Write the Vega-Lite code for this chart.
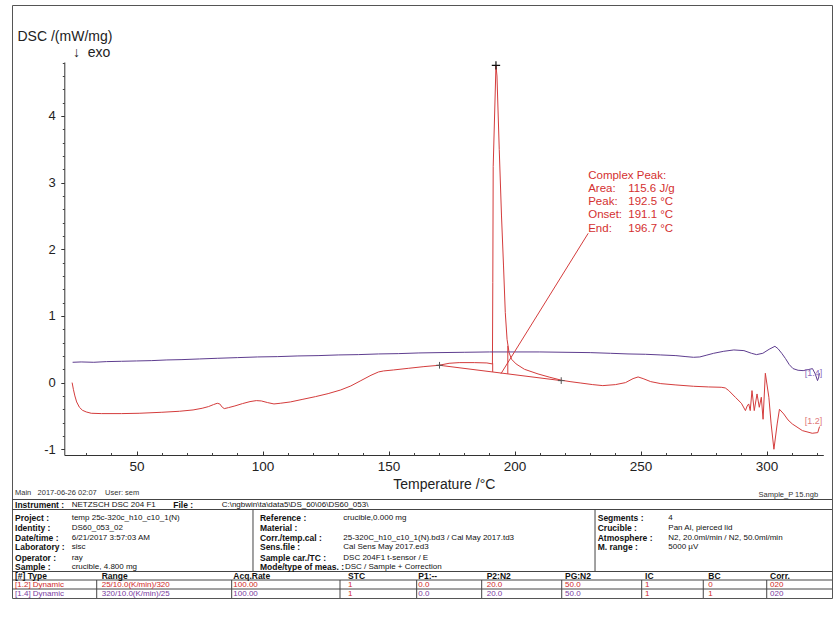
{
"$schema": "https://vega.github.io/schema/vega-lite/v6.json",
"width": 820,
"height": 593,
"autosize": {"type": "none"},
"padding": {"left": 12, "top": 5, "right": 3, "bottom": 30},
"background": "white",
"config": {"view": {"stroke": "#555", "strokeWidth": 1}, "font": "Liberation Sans", "axis": {"labelOverlap": false}},
"datasets": {
"curves": [
{"s":"1.2","t":24.4,"v":0.0},{"s":"1.2","t":24.9,"v":-0.1},{"s":"1.2","t":25.5,"v":-0.2},{"s":"1.2","t":26.2,"v":-0.29},{"s":"1.2","t":27.3,"v":-0.37},{"s":"1.2","t":28.5,"v":-0.415},{"s":"1.2","t":30,"v":-0.44},{"s":"1.2","t":32,"v":-0.46},{"s":"1.2","t":36,"v":-0.465},{"s":"1.2","t":44,"v":-0.465},{"s":"1.2","t":51,"v":-0.46},{"s":"1.2","t":60,"v":-0.445},{"s":"1.2","t":67,"v":-0.43},{"s":"1.2","t":72.4,"v":-0.41},{"s":"1.2","t":76,"v":-0.385},{"s":"1.2","t":78.5,"v":-0.36},{"s":"1.2","t":80.5,"v":-0.33},{"s":"1.2","t":82,"v":-0.31},{"s":"1.2","t":83,"v":-0.32},{"s":"1.2","t":84,"v":-0.37},{"s":"1.2","t":84.8,"v":-0.39},{"s":"1.2","t":86.5,"v":-0.375},{"s":"1.2","t":89,"v":-0.35},{"s":"1.2","t":92,"v":-0.315},{"s":"1.2","t":95,"v":-0.285},{"s":"1.2","t":97.5,"v":-0.27},{"s":"1.2","t":99.5,"v":-0.275},{"s":"1.2","t":102,"v":-0.3},{"s":"1.2","t":104.5,"v":-0.32},{"s":"1.2","t":107,"v":-0.31},{"s":"1.2","t":111,"v":-0.29},{"s":"1.2","t":116,"v":-0.25},{"s":"1.2","t":121,"v":-0.21},{"s":"1.2","t":126,"v":-0.165},{"s":"1.2","t":131,"v":-0.11},{"s":"1.2","t":135,"v":-0.05},{"s":"1.2","t":139,"v":0.03},{"s":"1.2","t":143,"v":0.11},{"s":"1.2","t":146,"v":0.16},{"s":"1.2","t":148,"v":0.175},{"s":"1.2","t":152,"v":0.19},{"s":"1.2","t":158,"v":0.215},{"s":"1.2","t":164,"v":0.24},{"s":"1.2","t":170,"v":0.26},{"s":"1.2","t":174,"v":0.29},{"s":"1.2","t":178,"v":0.3},{"s":"1.2","t":184,"v":0.3},{"s":"1.2","t":189,"v":0.295},{"s":"1.2","t":191.2,"v":0.28},{"s":"1.2","t":191.35,"v":1.5},{"s":"1.2","t":191.5,"v":3.24},{"s":"1.2","t":192.6,"v":4.76},{"s":"1.2","t":193.0,"v":4.6},{"s":"1.2","t":193.9,"v":3.5},{"s":"1.2","t":194.8,"v":2.5},{"s":"1.2","t":195.6,"v":1.75},{"s":"1.2","t":196.3,"v":1.05},{"s":"1.2","t":197.0,"v":0.65},{"s":"1.2","t":197.8,"v":0.45},{"s":"1.2","t":198.8,"v":0.35},{"s":"1.2","t":200.6,"v":0.28},{"s":"1.2","t":203.9,"v":0.2},{"s":"1.2","t":209.3,"v":0.13},{"s":"1.2","t":214,"v":0.08},{"s":"1.2","t":218.7,"v":0.035},{"s":"1.2","t":222,"v":0.015},{"s":"1.2","t":226,"v":-0.005},{"s":"1.2","t":231,"v":-0.03},{"s":"1.2","t":235,"v":-0.045},{"s":"1.2","t":240,"v":-0.03},{"s":"1.2","t":244,"v":0.0},{"s":"1.2","t":247,"v":0.06},{"s":"1.2","t":249,"v":0.085},{"s":"1.2","t":251,"v":0.06},{"s":"1.2","t":254,"v":0.015},{"s":"1.2","t":258,"v":-0.015},{"s":"1.2","t":264,"v":-0.035},{"s":"1.2","t":271,"v":-0.055},{"s":"1.2","t":277,"v":-0.065},{"s":"1.2","t":282,"v":-0.07},{"s":"1.2","t":283.6,"v":-0.08},{"s":"1.2","t":285,"v":-0.12},{"s":"1.2","t":287.6,"v":-0.22},{"s":"1.2","t":290,"v":-0.31},{"s":"1.2","t":291.6,"v":-0.42},{"s":"1.2","t":292.3,"v":-0.35},{"s":"1.2","t":292.9,"v":-0.32},{"s":"1.2","t":293.5,"v":-0.42},{"s":"1.2","t":294.2,"v":-0.12},{"s":"1.2","t":295.1,"v":-0.42},{"s":"1.2","t":296.2,"v":-0.17},{"s":"1.2","t":297.1,"v":-0.37},{"s":"1.2","t":297.9,"v":-0.22},{"s":"1.2","t":298.6,"v":-0.55},{"s":"1.2","t":299.5,"v":0.14},{"s":"1.2","t":300.9,"v":-0.22},{"s":"1.2","t":301.8,"v":-0.62},{"s":"1.2","t":302.9,"v":-1.0},{"s":"1.2","t":304.2,"v":-0.62},{"s":"1.2","t":305.1,"v":-0.4},{"s":"1.2","t":306.8,"v":-0.47},{"s":"1.2","t":308.5,"v":-0.56},{"s":"1.2","t":310.2,"v":-0.62},{"s":"1.2","t":314.2,"v":-0.72},{"s":"1.2","t":318.1,"v":-0.76},{"s":"1.2","t":320.3,"v":-0.75},{"s":"1.2","t":321,"v":-0.66},
{"s":"1.4","t":24.6,"v":0.305},{"s":"1.4","t":28,"v":0.31},{"s":"1.4","t":33,"v":0.305},{"s":"1.4","t":38,"v":0.315},{"s":"1.4","t":44,"v":0.32},{"s":"1.4","t":50,"v":0.325},{"s":"1.4","t":56,"v":0.33},{"s":"1.4","t":62,"v":0.34},{"s":"1.4","t":68,"v":0.345},{"s":"1.4","t":75,"v":0.355},{"s":"1.4","t":82,"v":0.365},{"s":"1.4","t":90,"v":0.375},{"s":"1.4","t":98,"v":0.385},{"s":"1.4","t":106,"v":0.39},{"s":"1.4","t":114,"v":0.4},{"s":"1.4","t":122,"v":0.405},{"s":"1.4","t":130,"v":0.415},{"s":"1.4","t":138,"v":0.42},{"s":"1.4","t":146,"v":0.43},{"s":"1.4","t":154,"v":0.435},{"s":"1.4","t":162,"v":0.445},{"s":"1.4","t":170,"v":0.45},{"s":"1.4","t":180,"v":0.455},{"s":"1.4","t":190,"v":0.46},{"s":"1.4","t":200,"v":0.46},{"s":"1.4","t":210,"v":0.46},{"s":"1.4","t":220,"v":0.455},{"s":"1.4","t":230,"v":0.45},{"s":"1.4","t":238,"v":0.44},{"s":"1.4","t":245,"v":0.43},{"s":"1.4","t":252,"v":0.425},{"s":"1.4","t":258,"v":0.415},{"s":"1.4","t":264,"v":0.405},{"s":"1.4","t":268,"v":0.39},{"s":"1.4","t":271,"v":0.38},{"s":"1.4","t":273.5,"v":0.385},{"s":"1.4","t":276,"v":0.41},{"s":"1.4","t":279,"v":0.44},{"s":"1.4","t":283,"v":0.47},{"s":"1.4","t":287,"v":0.49},{"s":"1.4","t":291,"v":0.48},{"s":"1.4","t":294,"v":0.44},{"s":"1.4","t":296,"v":0.42},{"s":"1.4","t":298.5,"v":0.44},{"s":"1.4","t":301,"v":0.5},{"s":"1.4","t":303.3,"v":0.545},{"s":"1.4","t":304.5,"v":0.51},{"s":"1.4","t":306,"v":0.44},{"s":"1.4","t":307.5,"v":0.36},{"s":"1.4","t":309,"v":0.27},{"s":"1.4","t":310.5,"v":0.21},{"s":"1.4","t":312.5,"v":0.185},{"s":"1.4","t":314.5,"v":0.18},{"s":"1.4","t":316.5,"v":0.195},{"s":"1.4","t":318.2,"v":0.21},{"s":"1.4","t":319.3,"v":0.13},{"s":"1.4","t":320.2,"v":0.03},{"s":"1.4","t":320.6,"v":0.07},{"s":"1.4","t":321,"v":0.14}
],
"segments": [
{"t":170.2,"v":0.26,"t2":218.5,"v2":0.03},
{"t":191.3,"v":0.16,"t2":191.3,"v2":0.29},
{"t":197.3,"v":0.131,"t2":197.3,"v2":0.55},
{"t":194.6,"v":0.135,"t2":229.2,"v2":2.24}
],
"markers": [
{"t":170.2,"v":0.26,"k":"limit"},{"t":218.5,"v":0.03,"k":"limit"},{"t":192.6,"v":4.76,"k":"peak"}
],
"peakText": [
{"t":229.2,"v":3.093,"label":"Complex Peak:"},
{"t":229.2,"v":2.904,"label":"Area:"},{"t":245.1,"v":2.904,"label":"115.6 J/g"},
{"t":229.2,"v":2.709,"label":"Peak:"},{"t":245.1,"v":2.709,"label":"192.5 °C"},
{"t":229.2,"v":2.508,"label":"Onset:"},{"t":245.1,"v":2.508,"label":"191.1 °C"},
{"t":229.2,"v":2.308,"label":"End:"},{"t":245.1,"v":2.308,"label":"196.7 °C"}
],
"notes": [
{"t":24.75,"v":4.94,"label":"↓\u00a0\u00a0exo"}
],
"seriesLabels": [
{"t":315.1,"v":0.15,"label":"[1.4]","s":"1.4"},
{"t":315.1,"v":-0.57,"label":"[1.2]","s":"1.2"}
],
"hl": [
{"c":0,"c2":100,"r":0.65},{"c":0,"c2":100,"r":1.65},{"c":0,"c2":100,"r":7.85},{"c":0,"c2":100,"r":8.7},{"c":0,"c2":100,"r":9.6}
],
"vl": [
{"c":29.39,"r":1.65,"r2":7.85},{"c":71.1,"r":1.65,"r2":7.85},
{"c":10.33,"r":8.7,"r2":10.5},{"c":26.79,"r":8.7,"r2":10.5},{"c":40,"r":8.7,"r2":10.5},{"c":49.35,"r":8.7,"r2":10.5},{"c":57.28,"r":8.7,"r2":10.5},{"c":67.04,"r":8.7,"r2":10.5},{"c":76.79,"r":8.7,"r2":10.5},{"c":84.3,"r":8.7,"r2":10.5},{"c":92.04,"r":8.7,"r2":10.5}
],
"table": [
{"c":0.37,"r":0,"role":"meta","s":"n","text":"Main\u00a0\u00a0 2017-06-26 02:07\u00a0\u00a0\u00a0 User: sem"},
{"c":98.3,"r":0.2,"role":"file","s":"n","text":"Sample_P 15.ngb"},
{"c":0.37,"r":1.2,"role":"label","s":"n","text":"Instrument :"},
{"c":7.28,"r":1.2,"role":"value","s":"n","text":"NETZSCH DSC 204 F1"},
{"c":19.67,"r":1.2,"role":"label","s":"n","text":"File :"},
{"c":25.57,"r":1.2,"role":"value","s":"n","text":"C:\\ngbwin\\ta\\data5\\DS_60\\06\\DS60_053\\"},
{"c":0.37,"r":2.5,"role":"label","s":"n","text":"Project :"},
{"c":7.28,"r":2.5,"role":"value","s":"n","text":"temp 25c-320c_h10_c10_1(N)"},
{"c":30.24,"r":2.5,"role":"label","s":"n","text":"Reference :"},
{"c":40.4,"r":2.5,"role":"value","s":"n","text":"crucible,0.000 mg"},
{"c":71.43,"r":2.5,"role":"label","s":"n","text":"Segments :"},
{"c":80.04,"r":2.5,"role":"value","s":"n","text":"4"},
{"c":0.37,"r":3.5,"role":"label","s":"n","text":"Identity :"},
{"c":7.28,"r":3.5,"role":"value","s":"n","text":"DS60_053_02"},
{"c":30.24,"r":3.5,"role":"label","s":"n","text":"Material :"},
{"c":71.43,"r":3.5,"role":"label","s":"n","text":"Crucible :"},
{"c":80.04,"r":3.5,"role":"value","s":"n","text":"Pan Al, pierced lid"},
{"c":0.37,"r":4.45,"role":"label","s":"n","text":"Date/time :"},
{"c":7.28,"r":4.45,"role":"value","s":"n","text":"6/21/2017 3:57:03 AM"},
{"c":30.24,"r":4.45,"role":"label","s":"n","text":"Corr./temp.cal :"},
{"c":40.4,"r":4.45,"role":"value","s":"n","text":"25-320C_h10_c10_1(N).bd3 / Cal May 2017.td3"},
{"c":71.43,"r":4.45,"role":"label","s":"n","text":"Atmosphere :"},
{"c":80.04,"r":4.45,"role":"value","s":"n","text":"N2, 20.0ml/min / N2, 50.0ml/min"},
{"c":0.37,"r":5.4,"role":"label","s":"n","text":"Laboratory :"},
{"c":7.28,"r":5.4,"role":"value","s":"n","text":"sisc"},
{"c":30.24,"r":5.4,"role":"label","s":"n","text":"Sens.file :"},
{"c":40.4,"r":5.4,"role":"value","s":"n","text":"Cal Sens May 2017.ed3"},
{"c":71.43,"r":5.4,"role":"label","s":"n","text":"M. range :"},
{"c":80.04,"r":5.4,"role":"value","s":"n","text":"5000 µV"},
{"c":0.37,"r":6.45,"role":"label","s":"n","text":"Operator :"},
{"c":7.28,"r":6.45,"role":"value","s":"n","text":"ray"},
{"c":30.24,"r":6.45,"role":"label","s":"n","text":"Sample car./TC :"},
{"c":40.4,"r":6.45,"role":"value","s":"n","text":"DSC 204F1 t-sensor / E"},
{"c":0.37,"r":7.4,"role":"label","s":"n","text":"Sample :"},
{"c":7.28,"r":7.4,"role":"value","s":"n","text":"crucible, 4.800 mg"},
{"c":30.24,"r":7.4,"role":"label","s":"n","text":"Mode/type of meas. :"},
{"c":40.6,"r":7.4,"role":"value","s":"n","text":"DSC / Sample + Correction"},
{"c":0.37,"r":8.25,"role":"label","s":"n","text":"[#] Type"},
{"c":10.94,"r":8.25,"role":"label","s":"n","text":"Range"},
{"c":26.99,"r":8.25,"role":"label","s":"n","text":"Acq.Rate"},
{"c":40.98,"r":8.25,"role":"label","s":"n","text":"STC"},
{"c":49.55,"r":8.25,"role":"label","s":"n","text":"P1:--"},
{"c":57.89,"r":8.25,"role":"label","s":"n","text":"P2:N2"},
{"c":67.44,"r":8.25,"role":"label","s":"n","text":"PG:N2"},
{"c":77.2,"r":8.25,"role":"label","s":"n","text":"IC"},
{"c":84.91,"r":8.25,"role":"label","s":"n","text":"BC"},
{"c":92.44,"r":8.25,"role":"label","s":"n","text":"Corr."},
{"c":0.37,"r":9.2,"role":"value","s":"1.2","text":"[1.2] Dynamic"},
{"c":10.94,"r":9.2,"role":"value","s":"1.2","text":"25/10.0(K/min)/320"},
{"c":26.99,"r":9.2,"role":"value","s":"1.2","text":"100.00"},
{"c":40.98,"r":9.2,"role":"value","s":"1.2","text":"1"},
{"c":49.55,"r":9.2,"role":"value","s":"1.2","text":"0.0"},
{"c":57.89,"r":9.2,"role":"value","s":"1.2","text":"20.0"},
{"c":67.44,"r":9.2,"role":"value","s":"1.2","text":"50.0"},
{"c":77.2,"r":9.2,"role":"value","s":"1.2","text":"1"},
{"c":84.91,"r":9.2,"role":"value","s":"1.2","text":"0"},
{"c":92.44,"r":9.2,"role":"value","s":"1.2","text":"020"},
{"c":0.37,"r":10.1,"role":"value","s":"1.4","text":"[1.4] Dynamic"},
{"c":10.94,"r":10.1,"role":"value","s":"1.4","text":"320/10.0(K/min)/25"},
{"c":26.99,"r":10.1,"role":"value","s":"1.4","text":"100.00"},
{"c":40.98,"r":10.1,"role":"value","s":"1.2","text":"1"},
{"c":49.55,"r":10.1,"role":"value","s":"1.4","text":"0.0"},
{"c":57.89,"r":10.1,"role":"value","s":"1.4","text":"20.0"},
{"c":67.44,"r":10.1,"role":"value","s":"1.4","text":"50.0"},
{"c":77.2,"r":10.1,"role":"value","s":"1.2","text":"1"},
{"c":84.91,"r":10.1,"role":"value","s":"1.2","text":"1"},
{"c":92.44,"r":10.1,"role":"value","s":"1.4","text":"020"}
]
},
"layer": [
{
"layer": [
{
"data": {"name": "curves"},
"mark": {"type": "line", "strokeWidth": 1},
"encoding": {
"x": {"field": "t", "type": "quantitative",
 "scale": {"domain": [21.3, 322.5], "range": [52.3, 811.3], "nice": false, "zero": false},
 "axis": {"orient": "bottom", "offset": -143, "values": [50,100,150,200,250,300],
  "labelOverlap": false, "labelFlush": false, "labelBound": false, "format": "d",
  "tickSize": -4, "labelPadding": 8, "labelFontSize": 13.5, "labelColor": "#222", "labelFont": "Liberation Sans",
  "tickColor": "#333", "domainColor": "#333", "grid": false,
  "title": "Temperature /°C", "titleFont": "Liberation Sans", "titleFontSize": 14, "titleFontWeight": "normal", "titleColor": "#222", "titleBaseline": "alphabetic", "titleY": 33}},
"y": {"field": "v", "type": "quantitative",
 "scale": {"domain": [-1.086, 4.81], "range": [450, 57], "nice": false, "zero": false},
 "axis": {"orient": "left", "offset": -52.3, "values": [-1,0,1,2,3,4],
  "labelExpr": "'' + datum.value", "labelOverlap": false, "labelFlush": false, "labelBound": false,
  "tickSize": 3.5, "labelPadding": 5.5, "labelFontSize": 13, "labelColor": "#222", "labelFont": "Liberation Sans",
  "tickColor": "#333", "domainColor": "#333", "grid": false,
  "title": "DSC /(mW/mg)",
  "titleAngle": 0, "titleAlign": "left", "titleBaseline": "alphabetic", "titleX": -47.3, "titleY": 35,
  "titleFont": "Liberation Sans", "titleFontSize": 14, "titleFontWeight": "normal", "titleColor": "#222"}},
"color": {"field": "s", "type": "nominal", "scale": {"domain": ["1.2", "1.4"], "range": ["#d43c3c", "#5e3d8f"]}, "legend": null}
}
},
{
"data": {"name": "segments"},
"mark": {"type": "rule", "color": "#d43c3c", "strokeWidth": 1},
"encoding": {
"x": {"field": "t", "type": "quantitative",
 "axis": {"orient": "bottom", "offset": -143, "values": [30,40,60,70,80,90,110,120,130,140,160,170,180,190,210,220,230,240,260,270,280,290,310,320],
  "labels": false, "domain": false, "grid": false, "title": null, "tickSize": -2.5, "tickColor": "#444"}},
"x2": {"field": "t2"},
"y": {"field": "v", "type": "quantitative",
 "axis": {"orient": "left", "offset": -52.3, "values": [-0.8,-0.6,-0.4,-0.2,0.2,0.4,0.6,0.8,1.2,1.4,1.6,1.8,2.2,2.4,2.6,2.8,3.2,3.4,3.6,3.8,4.2,4.4,4.6,4.8],
  "labels": false, "domain": false, "grid": false, "title": null, "tickSize": 2, "tickColor": "#444"}},
"y2": {"field": "v2"}
}
},
{
"data": {"name": "markers"},
"transform": [{"filter": "datum.k == 'limit'"}],
"mark": {"type": "point", "shape": "M-1,0L1,0M0,-1L0,1", "filled": false, "size": 45, "strokeWidth": 1, "color": "#555", "opacity": 1},
"encoding": {
"x": {"field": "t", "type": "quantitative", "axis": null},
"y": {"field": "v", "type": "quantitative", "axis": null}
}
},
{
"data": {"name": "markers"},
"transform": [{"filter": "datum.k == 'peak'"}],
"mark": {"type": "point", "shape": "M-1,0L1,0M0,-1L0,1", "filled": false, "size": 70, "strokeWidth": 1.2, "color": "#111", "opacity": 1},
"encoding": {
"x": {"field": "t", "type": "quantitative", "axis": null},
"y": {"field": "v", "type": "quantitative", "axis": null}
}
},
{
"data": {"name": "peakText"},
"mark": {"type": "text", "align": "left", "baseline": "middle", "fontSize": 11.5, "font": "Liberation Sans", "color": "#d43030"},
"encoding": {
"x": {"field": "t", "type": "quantitative", "axis": null},
"y": {"field": "v", "type": "quantitative", "axis": null},
"text": {"field": "label"}
}
},
{
"data": {"name": "notes"},
"mark": {"type": "text", "align": "left", "baseline": "middle", "fontSize": 14, "font": "Liberation Sans", "color": "#222"},
"encoding": {
"x": {"field": "t", "type": "quantitative", "axis": null},
"y": {"field": "v", "type": "quantitative", "axis": null},
"text": {"field": "label"}
}
},
{
"data": {"name": "seriesLabels"},
"transform": [{"filter": "datum.s == '1.4'"}],
"mark": {"type": "text", "align": "left", "baseline": "middle", "fontSize": 9, "font": "Liberation Sans", "color": "#8a6cbc"},
"encoding": {
"x": {"field": "t", "type": "quantitative", "axis": null},
"y": {"field": "v", "type": "quantitative", "axis": null},
"text": {"field": "label"}
}
},
{
"data": {"name": "seriesLabels"},
"transform": [{"filter": "datum.s == '1.2'"}],
"mark": {"type": "text", "align": "left", "baseline": "middle", "fontSize": 9, "font": "Liberation Sans", "color": "#e07a7a"},
"encoding": {
"x": {"field": "t", "type": "quantitative", "axis": null},
"y": {"field": "v", "type": "quantitative", "axis": null},
"text": {"field": "label"}
}
}
],
"resolve": {"axis": {"x": "independent", "y": "independent"}}
},
{
"layer": [
{
"data": {"name": "hl"},
"mark": {"type": "rule", "color": "#444", "strokeWidth": 1},
"encoding": {
"x": {"field": "c", "type": "quantitative", "scale": {"domain": [0, 100], "range": [0, 820], "nice": false, "zero": false}, "axis": null},
"x2": {"field": "c2"},
"y": {"field": "r", "type": "quantitative", "scale": {"domain": [0, 10], "range": [488, 588], "nice": false, "zero": false}, "axis": null}
}
},
{
"data": {"name": "vl"},
"mark": {"type": "rule", "color": "#444", "strokeWidth": 1},
"encoding": {
"x": {"field": "c", "type": "quantitative", "axis": null},
"y": {"field": "r", "type": "quantitative", "axis": null},
"y2": {"field": "r2"}
}
},
{
"data": {"name": "table"},
"transform": [{"filter": "datum.role == 'label'"}],
"mark": {"type": "text", "align": "left", "baseline": "middle", "fontSize": 8.5, "fontWeight": "bold", "font": "Liberation Sans", "color": "#111"},
"encoding": {
"x": {"field": "c", "type": "quantitative", "axis": null},
"y": {"field": "r", "type": "quantitative", "axis": null},
"text": {"field": "text"}
}
},
{
"data": {"name": "table"},
"transform": [{"filter": "datum.role == 'value'"}],
"mark": {"type": "text", "align": "left", "baseline": "middle", "fontSize": 8, "font": "Liberation Sans"},
"encoding": {
"x": {"field": "c", "type": "quantitative", "axis": null},
"y": {"field": "r", "type": "quantitative", "axis": null},
"text": {"field": "text"},
"color": {"field": "s", "type": "nominal", "scale": {"domain": ["n", "1.2", "1.4"], "range": ["#111111", "#d02828", "#7a3aa0"]}, "legend": null}
}
},
{
"data": {"name": "table"},
"transform": [{"filter": "datum.role == 'meta'"}],
"mark": {"type": "text", "align": "left", "baseline": "middle", "fontSize": 7.5, "font": "Liberation Sans", "color": "#333"},
"encoding": {
"x": {"field": "c", "type": "quantitative", "axis": null},
"y": {"field": "r", "type": "quantitative", "axis": null},
"text": {"field": "text"}
}
},
{
"data": {"name": "table"},
"transform": [{"filter": "datum.role == 'file'"}],
"mark": {"type": "text", "align": "right", "baseline": "middle", "fontSize": 7.5, "font": "Liberation Sans", "color": "#333"},
"encoding": {
"x": {"field": "c", "type": "quantitative", "axis": null},
"y": {"field": "r", "type": "quantitative", "axis": null},
"text": {"field": "text"}
}
}
]
}
],
"resolve": {"scale": {"x": "independent", "y": "independent", "color": "independent"}, "axis": {"x": "independent", "y": "independent"}}
}
